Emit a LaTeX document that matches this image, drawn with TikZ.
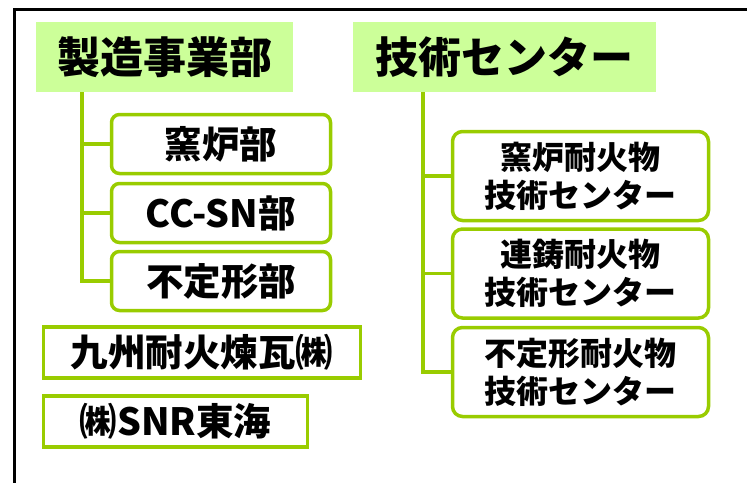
\documentclass[tikz,border=0pt]{standalone}
\usepackage{fontspec}
\setmainfont{Noto Sans CJK JP}
\definecolor{leaf}{HTML}{99CC00}
\definecolor{pale}{HTML}{CCFF99}
\tikzset{
  head/.style={fill=pale, inner sep=0pt, minimum height=70pt,
    font=\fontsize{43}{46}\selectfont\bfseries},
  dept/.style={draw=leaf, line width=3.5pt, rounded corners=8pt, fill=white,
    inner sep=0pt, minimum width=219pt, minimum height=59pt,
    font=\fontsize{37.5}{40}\selectfont\bfseries},
  lab/.style={draw=leaf, line width=3.5pt, rounded corners=10pt, fill=white,
    inner sep=0pt, minimum width=256pt, minimum height=89pt, align=center,
    font=\fontsize{32}{38}\selectfont\bfseries},
  firm/.style={draw=leaf, line width=3.5pt, fill=white, inner sep=0pt,
    minimum height=51pt, font=\fontsize{37.5}{40}\selectfont\bfseries},
  branch/.style={draw=leaf, line width=3.5pt}
}
\begin{document}
\begin{tikzpicture}[x=1pt,y=-1pt]
  \useasboundingbox (0,0) rectangle (747,482);
  \clip (0,0) rectangle (747,482);
  \draw[line width=3pt] (14,9) rectangle (770,500);

  % heads
  \node[head, minimum width=257pt] (hdrA) at (164.5,57) {製造事業部};
  \node[head, minimum width=303pt] (hdrB) at (504.5,57) {技術センター};

  % trunks
  \coordinate (trunkA) at (82,0);
  \coordinate (trunkB) at (423,0);

  % departments
  \node[dept] (kiln) at (221,144) {窯炉部};
  \node[dept] (ccsn) at (221,213) {CC-SN部};
  \node[dept] (amor) at (221,281) {不定形部};

  % centers
  \node[lab] (kilnlab) at (580.5,176) {窯炉耐火物\\技術センター};
  \node[lab] (castlab) at (580.5,273.5) {連鋳耐火物\\技術センター};
  \node[lab] (amorlab) at (580.5,372) {不定形耐火物\\技術センター};

  % affiliates
  \node[firm, minimum width=317pt] (kyushu) at (202,352.5) {九州耐火煉瓦㈱};
  \node[firm, minimum width=264pt] (tokai) at (175.5,421.5) {㈱SNR東海};

  \draw[branch] (hdrA.south -| trunkA) |- (kiln.west);
  \draw[branch] (hdrA.south -| trunkA) |- (ccsn.west);
  \draw[branch] (hdrA.south -| trunkA) |- (amor.west);
  \draw[branch] (hdrB.south -| trunkB) |- (kilnlab.west);
  \draw[branch] (hdrB.south -| trunkB) |- (castlab.west);
  \draw[branch] (hdrB.south -| trunkB) |- (amorlab.west);
\end{tikzpicture}
\end{document}
